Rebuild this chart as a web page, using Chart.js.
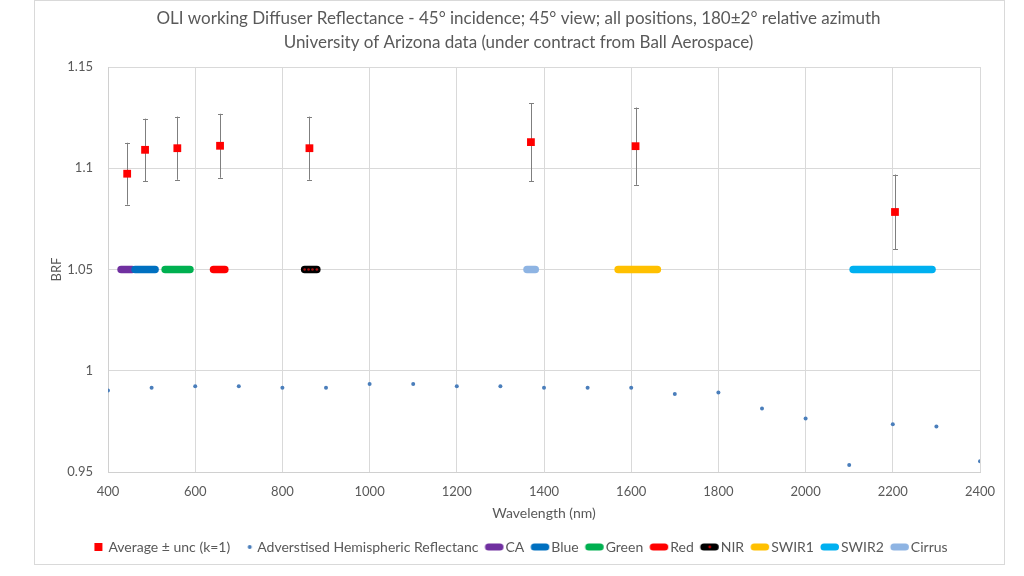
<!DOCTYPE html>
<html><head><meta charset="utf-8">
<script src="https://cdn.jsdelivr.net/npm/chart.js@4.4.0/dist/chart.umd.min.js"></script>
<style>
html,body{margin:0;padding:0;background:#fff;}
#wrap{position:absolute;left:34px;top:0;width:971px;height:565px;border:1px solid #d9d9d9;box-sizing:border-box;background:#fff;}
canvas{display:block;}
</style></head><body>
<div id="wrap"><canvas id="c" width="969" height="563"></canvas></div>
<script>
// ---- data ----
const titleLines = [
  'OLI working Diffuser Reflectance - 45\u00b0 incidence; 45\u00b0 view; all positions, 180\u00b12\u00b0 relative azimuth',
  'University of Arizona data (under contract from Ball Aerospace)'
];
const xAxisTitle = 'Wavelength (nm)';
const yAxisTitle = 'BRF';
const avgLabel = 'Average \u00b1 unc (k=1)';
const hemiLabel = 'Adverstised Hemispheric Reflectanc';

const avgWavelength = [444, 485, 559, 657, 862, 1370, 1610, 2205];
const avgBRF        = [1.0973, 1.1091, 1.1099, 1.1111, 1.1099, 1.1129, 1.1109, 1.0784];
const avgUnc        = [0.0153, 0.0154, 0.0156, 0.0158, 0.0156, 0.0192, 0.0191, 0.0185];

const hemiWavelength  = [400, 500, 600, 700, 800, 900, 1000, 1100, 1200, 1300, 1400, 1500, 1600, 1700, 1800, 1900, 2000, 2100, 2200, 2300, 2400];
const hemiReflectance = [0.9903, 0.9916, 0.9923, 0.9923, 0.9916, 0.9916, 0.9935, 0.9935, 0.9923, 0.9923, 0.9916, 0.9916, 0.9916, 0.9885, 0.9893, 0.9813, 0.9764, 0.9534, 0.9736, 0.9725, 0.9553];

const bandNames = ['CA', 'Blue', 'Green', 'Red', 'NIR', 'SWIR1', 'SWIR2', 'Cirrus'];
const bandStart = [430, 462, 531, 642, 851, 1570, 2109, 1361];
const bandEnd   = [455, 508, 588, 668, 879, 1660, 2290, 1380];
const bandLevel = 1.05;
const nirPoints = [851, 860, 869, 879];

const xMin = 400, xMax = 2400, xStep = 200;
const yTicks = [0.95, 1, 1.05, 1.1, 1.15];

// ---- styles ----
const bandColors = ['#7030a0', '#0070c0', '#00b050', '#ff0000', '#000000', '#ffc000', '#00b0f0', '#8eb4e3'];
const txt = '#595959';
const FONT = 'Lato';

function legendSym(kind, color, dot) {
  const c = document.createElement('canvas');
  c.width = 40; c.height = 14;
  const g = c.getContext('2d');
  if (kind === 'square') {
    g.fillStyle = color; g.fillRect(19, 3, 8, 8);
  } else if (kind === 'dot') {
    g.fillStyle = color; g.beginPath(); g.arc(25.5, 7, 2, 0, Math.PI * 2); g.fill();
  } else {
    g.strokeStyle = color; g.lineWidth = 7; g.lineCap = 'round';
    g.beginPath(); g.moveTo(16, 7); g.lineTo(27.5, 7); g.stroke();
    if (dot) { g.fillStyle = dot; g.beginPath(); g.arc(22, 7, 1.4, 0, Math.PI * 2); g.fill(); }
  }
  return c;
}

const datasets = [];
datasets.push({
  label: avgLabel,
  data: avgWavelength.map((w, i) => ({x: w, y: avgBRF[i]})),
  pointStyle: 'rect', pointRadius: 5.5, borderWidth: 0,
  backgroundColor: '#ff0000', borderColor: '#ff0000', showLine: false, order: 0,
  _sym: legendSym('square', '#ff0000')
});
datasets.push({
  label: hemiLabel,
  data: hemiWavelength.map((w, i) => ({x: w, y: hemiReflectance[i]})),
  pointStyle: 'circle', pointRadius: 2, borderWidth: 0,
  backgroundColor: '#4a7ebb', borderColor: '#4a7ebb', showLine: false, order: 1,
  _sym: legendSym('dot', '#4a7ebb')
});
bandNames.forEach((name, i) => {
  const isNIR = name === 'NIR';
  const xs = isNIR ? nirPoints : [bandStart[i], bandEnd[i]];
  datasets.push({
    label: name,
    data: xs.map(x => ({x: x, y: bandLevel})),
    showLine: true, borderColor: bandColors[i], backgroundColor: bandColors[i],
    borderWidth: 7.5, borderCapStyle: 'round', borderJoinStyle: 'round',
    pointRadius: isNIR ? 1.3 : 0, pointBackgroundColor: '#a01010', pointBorderWidth: 0,
    order: 10 - i,
    _sym: legendSym('line', bandColors[i], isNIR ? '#c00000' : null)
  });
});

const errorBars = {
  id: 'errorBars',
  beforeDatasetsDraw(chart) {
    const {ctx, scales: {x, y}} = chart;
    ctx.save();
    ctx.strokeStyle = '#7f7f7f';
    ctx.lineWidth = 1;
    avgWavelength.forEach((w, i) => {
      const px = Math.round(x.getPixelForValue(w)) + 0.5;
      const top = y.getPixelForValue(avgBRF[i] + avgUnc[i]);
      const bot = y.getPixelForValue(avgBRF[i] - avgUnc[i]);
      ctx.beginPath();
      ctx.moveTo(px, top); ctx.lineTo(px, bot);
      ctx.moveTo(px - 2.5, Math.round(top) + 0.5); ctx.lineTo(px + 2.5, Math.round(top) + 0.5);
      ctx.moveTo(px - 2.5, Math.round(bot) + 0.5); ctx.lineTo(px + 2.5, Math.round(bot) + 0.5);
      ctx.stroke();
    });
    ctx.restore();
  }
};

new Chart(document.getElementById('c'), {
  type: 'scatter',
  data: {datasets},
  plugins: [errorBars],
  options: {
    responsive: false, animation: false, events: [],
    layout: {padding: {left: 22, right: 24, top: 0, bottom: 0}},
    plugins: {
      title: {
        display: true, text: titleLines, color: txt,
        font: {family: FONT, size: 17, weight: 'normal', lineHeight: 24 / 17},
        padding: {top: 6, bottom: 12}
      },
      legend: {
        position: 'bottom',
        labels: {
          usePointStyle: true, pointStyleWidth: 12, boxHeight: 14,
          padding: 8, color: txt,
          font: {family: FONT, size: 14},
          generateLabels(chart) {
            return chart.data.datasets.map((d, i) => ({
              text: d.label, pointStyle: d._sym, fillStyle: 'transparent',
              strokeStyle: 'transparent', lineWidth: 0, hidden: false,
              datasetIndex: i, fontColor: txt
            }));
          }
        }
      },
      tooltip: {enabled: false}
    },
    scales: {
      x: {
        type: 'linear', min: xMin, max: xMax,
        ticks: {stepSize: xStep, color: txt, font: {family: FONT, size: 13}, padding: 12, maxRotation: 0,
          callback: v => String(v)},
        grid: {color: '#d9d9d9', drawTicks: false},
        border: {color: '#d0d0d0'},
        title: {display: true, text: xAxisTitle, color: txt, font: {family: FONT, size: 14}, padding: {top: 0, bottom: 10}},
        afterFit(s) { s.height = 60; s.paddingLeft = 0; s.paddingRight = 0; }
      },
      y: {
        type: 'linear', min: yTicks[0], max: yTicks[yTicks.length - 1],
        afterBuildTicks(s) { s.ticks = yTicks.map(v => ({value: v})); },
        ticks: {color: txt, font: {family: FONT, size: 13}, padding: 15,
          callback: v => String(Number(v.toFixed(2)))},
        grid: {color: '#d9d9d9', drawTicks: false},
        border: {color: '#d0d0d0'},
        title: {display: true, text: yAxisTitle, color: txt, font: {family: FONT, size: 13}, padding: {top: -8, bottom: 0}},
        afterFit(s) { s.width = 51; }
      }
    }
  }
});
</script>
</body></html>
